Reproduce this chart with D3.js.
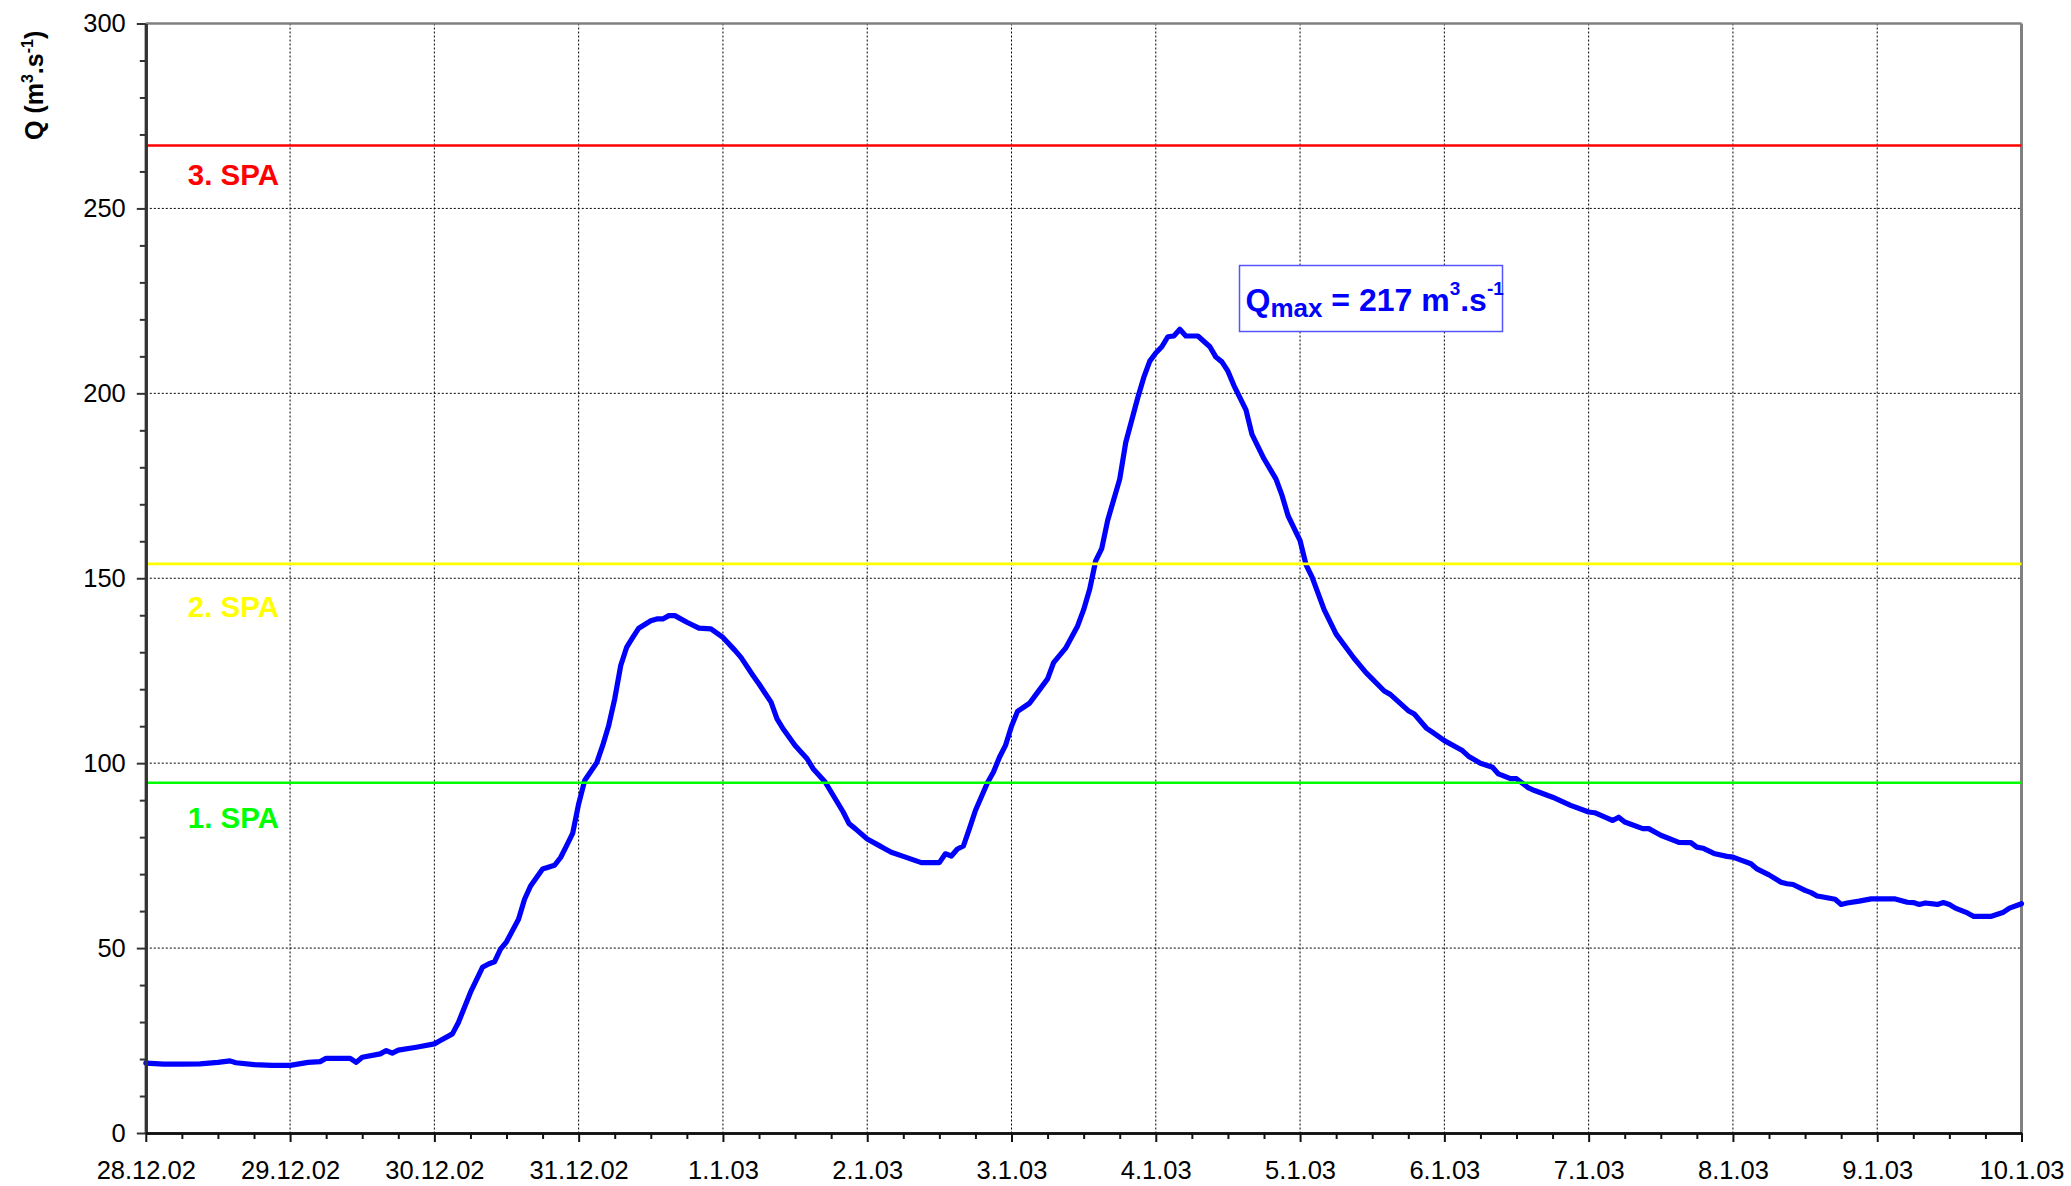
<!DOCTYPE html>
<html>
<head>
<meta charset="utf-8">
<script src="https://cdn.jsdelivr.net/npm/d3@7"></script>
<style>
  body { margin: 0; background: #fff; }
  text { font-family: "Liberation Sans", Arial, sans-serif; }
</style>
</head>
<body>
<div id="chart"></div>
<script>
// hours since 28.12.02 00:00 and discharge Q (m3/s)
var qHours = [0, 3, 6, 9, 12, 14, 15, 18, 21, 24, 27, 29, 30, 34, 35, 36, 39, 40, 41, 42, 45, 48, 49, 51, 52, 54, 56, 57, 58, 59,
  60, 62, 63, 64, 66, 68, 69, 70, 71, 72, 73, 75, 76, 77, 78, 79, 80, 81, 82, 84, 85, 86, 87, 88, 90, 92, 94, 96, 98, 99,
  101, 102, 104, 105, 106, 108, 110, 111, 113, 114, 116, 117, 118, 120, 122, 123, 124, 126, 129, 132, 133, 134, 135, 136, 137, 138, 140, 141, 142, 143,
  144, 145, 147, 148, 150, 151, 153, 155, 156, 157, 158, 159, 160, 162, 163, 165, 166, 167, 168, 169, 170, 171, 172, 173, 175, 177, 178, 179, 180, 181,
  183, 184, 186, 188, 189, 190, 192, 193, 194, 195, 196, 198, 201, 203, 204, 206, 207, 210, 211, 213, 214, 216, 218, 219, 220, 222, 224, 225, 227, 228,
  230, 231, 234, 237, 240, 241, 243, 244, 245, 246, 249, 250, 252, 255, 257, 258, 259, 261, 263, 264, 265, 267, 268, 270, 272, 273, 274, 276, 277, 278,
  279, 281, 282, 283, 285, 287, 291, 293, 294, 295, 296, 298, 299, 300, 301, 303, 304, 307, 309, 310, 312];
var qValues = [18.9, 18.6, 18.6, 18.7, 19.1, 19.5, 19.0, 18.5, 18.3, 18.3, 19.1, 19.3, 20.2, 20.2, 19.1, 20.5, 21.4, 22.3, 21.6, 22.4, 23.2, 24.1, 25, 26.8, 29.9, 38, 44.8, 45.7, 46.3, 49.7,
  51.7, 57.8, 63.2, 66.8, 71.4, 72.4, 74.5, 77.7, 81, 89, 95.3, 100.1, 104.8, 110.2, 117.4, 126.4, 131.4, 134, 136.5, 138.5, 139, 139, 139.9, 139.9, 138.1, 136.5, 136.3, 134, 130.5, 128.6,
  123.7, 121.4, 116.5, 112, 109.3, 104.8, 101.2, 98.5, 94.9, 92.2, 86.8, 83.6, 82.3, 79.5, 77.7, 76.8, 75.9, 74.8, 73.1, 73.1, 75.5, 74.9, 76.8, 77.6, 82.3, 87.2, 94.7, 97.6, 101.6, 104.8,
  110, 114, 116.2, 118.4, 122.8, 127.2, 131.1, 137.1, 141.5, 147, 154.7, 158, 165.7, 176.8, 186.7, 198.8, 204.3, 208.7, 210.9, 212.6, 215.3, 215.5, 217.3, 215.5, 215.5, 212.6, 209.8, 208.5, 206, 202.1,
  195.5, 188.9, 182.3, 176.8, 172.4, 166.9, 160.2, 153.6, 150.3, 145.9, 141.5, 134.9, 128.3, 124.4, 122.8, 119.5, 118.6, 114.2, 113.3, 109.5, 108.4, 106.1, 104.3, 103.4, 101.9, 100, 98.9, 97.1, 95.8, 95.8,
  93.3, 92.6, 90.8, 88.6, 86.8, 86.6, 85.2, 84.5, 85.4, 84.1, 82.3, 82.3, 80.5, 78.6, 78.5, 77.3, 77, 75.5, 74.8, 74.6, 74, 72.8, 71.4, 69.8, 67.8, 67.4, 67.2, 65.6, 65, 64.1,
  63.8, 63.2, 61.8, 62.2, 62.7, 63.3, 63.3, 62.4, 62.3, 61.8, 62.2, 61.8, 62.3, 61.8, 60.8, 59.5, 58.6, 58.6, 59.7, 60.8, 62];

// flood warning levels (stupně povodňové aktivity)
var spaNames = ["1. SPA", "2. SPA", "3. SPA"];
var spaLevels = [94.7, 153.9, 267];
var spaColors = ["#00ff00", "#ffff00", "#ff0000"];
var spaLabelValues = [82.6, 139.6, 256.4];

var yTicks = [0, 50, 100, 150, 200, 250, 300];
var qMax = 217;

var svgWidth = 2071;
var svgHeight = 1186;
var margin = { top: 23.5, right: 49.5, bottom: 53, left: 145.8 };
var width = svgWidth - margin.left - margin.right;
var height = svgHeight - margin.top - margin.bottom;

var start = new Date(2002, 11, 28);
var end = new Date(2003, 0, 10);

var svg = d3.select("#chart").append("svg")
  .attr("width", svgWidth)
  .attr("height", svgHeight);

var chartGroup = svg.append("g")
  .attr("transform", `translate(${margin.left}, ${margin.top})`);

var xScale = d3.scaleTime().domain([start, end]).range([0, width]);
var yScale = d3.scaleLinear().domain([0, 300]).range([height, 0]);

var days = d3.timeDay.range(start, d3.timeDay.offset(end, 1));
var sixHours = d3.timeHour.every(6).range(start, end).filter(function(d) { return d.getHours() !== 0; });

// grid
chartGroup.append("g").selectAll("line")
  .data(yTicks.slice(1, -1))
  .enter().append("line")
  .attr("x1", 0).attr("x2", width)
  .attr("y1", function(d) { return yScale(d); })
  .attr("y2", function(d) { return yScale(d); })
  .attr("stroke", "#000").attr("stroke-width", 1).attr("stroke-dasharray", "2,2");

chartGroup.append("g").selectAll("line")
  .data(days.slice(1, -1))
  .enter().append("line")
  .attr("x1", function(d) { return xScale(d); })
  .attr("x2", function(d) { return xScale(d); })
  .attr("y1", 0).attr("y2", height)
  .attr("stroke", "#000").attr("stroke-width", 1).attr("stroke-dasharray", "2,2");

// frame top/right
chartGroup.append("line").attr("x1", 0).attr("x2", width).attr("y1", 0).attr("y2", 0)
  .attr("stroke", "#808080").attr("stroke-width", 2.5);
chartGroup.append("line").attr("x1", width).attr("x2", width).attr("y1", 0).attr("y2", height)
  .attr("stroke", "#808080").attr("stroke-width", 3);

// discharge line
var data = qHours.map(function(h, i) {
  return { date: new Date(start.getTime() + h * 3600e3), q: qValues[i] };
});

var line = d3.line()
  .x(function(d) { return xScale(d.date); })
  .y(function(d) { return yScale(d.q); });

chartGroup.append("path")
  .datum(data)
  .attr("d", line)
  .attr("fill", "none")
  .attr("stroke", "#0000ff")
  .attr("stroke-width", 5.2)
  .attr("stroke-linejoin", "round")
  .attr("stroke-linecap", "round");

// SPA lines + labels
chartGroup.append("g").selectAll("line")
  .data(spaLevels)
  .enter().append("line")
  .attr("x1", 0).attr("x2", width)
  .attr("y1", function(d) { return yScale(d); })
  .attr("y2", function(d) { return yScale(d); })
  .attr("stroke", function(d, i) { return spaColors[i]; })
  .attr("stroke-width", 2.6);

chartGroup.append("g").selectAll("text")
  .data(spaNames)
  .enter().append("text")
  .attr("x", 42)
  .attr("y", function(d, i) { return yScale(spaLabelValues[i]); })
  .attr("fill", function(d, i) { return spaColors[i]; })
  .attr("font-size", "29.5px")
  .attr("font-weight", "bold")
  .text(function(d) { return d; });

// axes
var leftAxis = d3.axisLeft(yScale).tickValues(yTicks).tickSize(9).tickSizeOuter(0).tickPadding(11);
var leftMinor = d3.axisLeft(yScale).tickValues(d3.range(0, 301, 10).filter(function(v) { return v % 50 !== 0; }))
  .tickSize(6).tickSizeOuter(0).tickFormat("");
var bottomAxis = d3.axisBottom(xScale).tickValues(days).tickSize(9).tickSizeOuter(0).tickPadding(19)
  .tickFormat(d3.timeFormat("%-d.%-m.%y"));
var bottomMinor = d3.axisBottom(xScale).tickValues(sixHours).tickSize(6).tickSizeOuter(0).tickFormat("");

function styleAxis(g, color, w) {
  g.select(".domain").attr("stroke", color).attr("stroke-width", w);
  g.selectAll(".tick line").attr("stroke", color).attr("stroke-width", 2);
  g.selectAll(".tick text").attr("fill", "#000").attr("font-family", "'Liberation Sans', Arial, sans-serif");
}

chartGroup.append("g").call(leftMinor).call(styleAxis, "#333", 3);
chartGroup.append("g").call(leftAxis).call(styleAxis, "#333", 3)
  .selectAll(".tick text").attr("font-size", "25.5px");

chartGroup.append("g").attr("transform", `translate(0, ${height})`).call(bottomMinor).call(styleAxis, "#111", 2.5);
chartGroup.append("g").attr("transform", `translate(0, ${height})`).call(bottomAxis).call(styleAxis, "#111", 2.5)
  .selectAll(".tick text").attr("font-size", "25.5px");

// y-axis title
var yTitle = svg.append("text")
  .attr("transform", "translate(43, 140) rotate(-90)")
  .attr("font-size", "25px")
  .attr("font-weight", "bold")
  .attr("fill", "#000");
yTitle.append("tspan").text("Q (m");
yTitle.append("tspan").attr("font-size", "16px").attr("dy", -10).text("3");
yTitle.append("tspan").attr("dy", 10).text(".s");
yTitle.append("tspan").attr("font-size", "16px").attr("dy", -10).text("-1");
yTitle.append("tspan").attr("dy", 10).text(")");

// Qmax box
var box = svg.append("g").attr("transform", "translate(1239.5, 265.5)");
box.append("rect")
  .attr("width", 263).attr("height", 66)
  .attr("fill", "#fff")
  .attr("stroke", "#5555ff")
  .attr("stroke-width", 1.5);
var qText = box.append("text")
  .attr("x", 6).attr("y", 45)
  .attr("fill", "#0000ff")
  .attr("font-size", "32px")
  .attr("font-weight", "bold");
qText.append("tspan").text("Q");
qText.append("tspan").attr("font-size", "26px").attr("dy", 6).text("max");
qText.append("tspan").attr("dy", -6).text(" = " + qMax + " m");
qText.append("tspan").attr("font-size", "19px").attr("dy", -16).text("3");
qText.append("tspan").attr("dy", 16).text(".s");
qText.append("tspan").attr("font-size", "19px").attr("dy", -16).text("-1");
</script>
</body>
</html>
